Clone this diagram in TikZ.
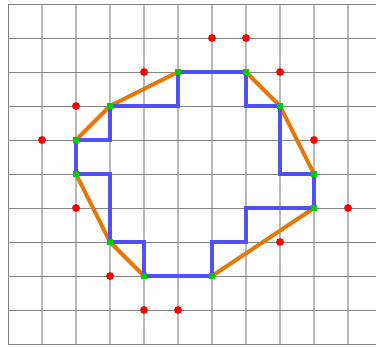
\documentclass[tikz,border=0pt]{standalone}
\definecolor{hullorange}{RGB}{230,120,10}
\definecolor{stairblue}{RGB}{80,80,250}
\definecolor{vertgreen}{RGB}{0,205,0}
\begin{document}
\begin{tikzpicture}[hull/.style={draw=hullorange, line width=3.3pt, line join=round}, stair/.style={draw=stairblue, line width=3.5pt, line join=miter}, corner/.style={rectangle, fill=vertgreen, inner sep=0pt, minimum size=5pt}, outside/.style={circle, fill=red, inner sep=0pt, minimum size=6.6pt}, hline/.style={draw=gray!95, line width=0.8pt}, vline/.style={draw=gray!55, line width=1.1pt}]
		\useasboundingbox (-0.235,-0.059) rectangle (10.824,10.118);
		\foreach \i in {1,...,10} \draw[vline] (\i,0) -- (\i,10);
		\foreach \j in {0,...,10} \draw[hline] (0,\j) -- (10.824,\j);
		\draw[hline] (0,0) -- (0,10);
		\coordinate (v1) at (5,8);
		\coordinate (v2) at (7,8);
		\coordinate (v3) at (8,7);
		\coordinate (v4) at (9,5);
		\coordinate (v5) at (9,4);
		\coordinate (v6) at (6,2);
		\coordinate (v7) at (4,2);
		\coordinate (v8) at (3,3);
		\coordinate (v9) at (2,5);
		\coordinate (v10) at (2,6);
		\coordinate (v11) at (3,7);
		\coordinate (s1) at (7,3);
		\draw[hull] (v1) -- (v2) -- (v3) -- (v4) -- (v5) -- (v6) -- (v7) -- (v8) -- (v9) -- (v10) -- (v11) -- cycle;
		\draw[stair] (v1) -- (v2) |- (v3) |- (v4) -- (v5) -| (s1) -| (v6) -- (v7) |- (v8) |- (v9) -- (v10) -| (v11) -| (v1) -- cycle;
		\node[corner] (g1) at (v1) {};
		\node[corner] (g2) at (v2) {};
		\node[corner] (g3) at (v3) {};
		\node[corner] (g4) at (v4) {};
		\node[corner] (g5) at (v5) {};
		\node[corner] (g6) at (v6) {};
		\node[corner] (g7) at (v7) {};
		\node[corner] (g8) at (v8) {};
		\node[corner] (g9) at (v9) {};
		\node[corner] (g10) at (v10) {};
		\node[corner] (g11) at (v11) {};
		\node[outside] (r1) at (6,9) {};
		\node[outside] (r2) at (7,9) {};
		\node[outside] (r3) at (4,8) {};
		\node[outside] (r4) at (8,8) {};
		\node[outside] (r5) at (2,7) {};
		\node[outside] (r6) at (1,6) {};
		\node[outside] (r7) at (9,6) {};
		\node[outside] (r8) at (2,4) {};
		\node[outside] (r9) at (10,4) {};
		\node[outside] (r10) at (8,3) {};
		\node[outside] (r11) at (3,2) {};
		\node[outside] (r12) at (4,1) {};
		\node[outside] (r13) at (5,1) {};
	\end{tikzpicture}
\end{document}
